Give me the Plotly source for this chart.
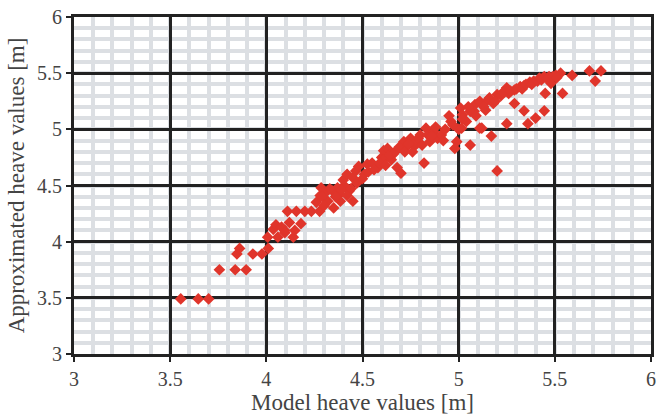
import plotly.graph_objects as go

# Model heave vs. approximated heave (metres)
model_heave = [
    3.555, 3.646, 3.70, 3.756, 3.838, 3.895, 3.847, 3.861, 3.93, 3.977,
    4.01, 4.007, 4.036, 4.05, 4.06, 4.096, 4.11, 4.156, 4.20, 4.234,
    4.277, 4.079, 4.12, 4.148, 4.18, 4.14, 4.096, 4.26, 4.28, 4.285,
    4.31, 4.32, 4.345, 4.37, 4.38, 4.385, 4.405, 4.43, 4.45, 4.40,
    4.42, 4.45, 4.465, 4.48, 4.51, 4.525, 4.55, 4.58, 4.60, 4.61,
    4.63, 4.61, 4.65, 4.66, 4.68, 4.70, 4.715, 4.73, 4.75, 4.77,
    4.78, 4.80, 4.82, 4.83, 4.84, 4.85, 4.87, 4.89, 4.91, 4.93,
    4.95, 4.96, 4.98, 4.99, 5.00, 5.01, 5.02, 5.04, 5.06, 5.08,
    5.02, 5.015, 5.06, 5.085, 5.09, 5.11, 5.12, 5.14, 5.15, 5.18,
    5.20, 5.22, 5.25, 5.26, 5.29, 5.32, 5.34, 5.37, 5.39, 5.42,
    5.445, 5.47, 5.29, 5.34, 5.25, 5.36, 5.40, 5.445, 5.45, 5.17,
    5.20, 5.11, 5.54, 5.505, 5.53, 5.59, 5.68, 5.74, 5.71, 5.48,
    4.47, 4.50, 4.53, 4.56, 4.59, 4.62, 4.64, 4.67, 4.69, 4.72,
    4.74, 4.76, 4.79, 4.81, 4.86, 4.88, 4.92, 4.97, 5.05, 5.13,
    5.16, 5.19, 5.23, 5.27, 5.30, 5.33, 5.35, 5.38, 5.41, 5.43,
    5.46, 5.49, 5.51, 4.29, 4.33, 4.36, 4.39, 4.42, 4.44, 4.35,
    4.30,
]
approx_heave = [
    3.49, 3.49, 3.49, 3.75, 3.75, 3.75, 3.89, 3.94, 3.89, 3.89,
    3.94, 4.04, 4.11, 4.15, 4.04, 4.10, 4.27, 4.27, 4.27, 4.27,
    4.27, 4.13, 4.17, 4.10, 4.16, 4.04, 4.08, 4.35, 4.41, 4.48,
    4.44, 4.36, 4.45, 4.48, 4.42, 4.36, 4.50, 4.45, 4.36, 4.55,
    4.60, 4.57, 4.63, 4.67, 4.60, 4.69, 4.70, 4.66, 4.75, 4.81,
    4.83, 4.73, 4.73, 4.78, 4.66, 4.61, 4.89, 4.85, 4.92, 4.85,
    4.89, 4.95, 4.70, 5.01, 4.95, 4.89, 4.98, 4.92, 4.95, 5.00,
    5.12, 5.07, 4.83, 4.89, 5.00, 5.19, 5.13, 5.07, 4.86, 5.16,
    5.09, 5.01, 5.16, 5.22, 5.12, 5.25, 5.01, 5.17, 5.26, 5.23,
    5.31, 5.30, 5.37, 5.32, 5.35, 5.38, 5.39, 5.42, 5.43, 5.455,
    5.47, 5.47, 5.23, 5.165, 5.05, 5.05, 5.10, 5.165, 5.32, 4.94,
    4.63, 5.01, 5.32, 5.48, 5.50, 5.48, 5.52, 5.52, 5.43, 5.41,
    4.52, 4.56, 4.62, 4.64, 4.70, 4.68, 4.77, 4.80, 4.84, 4.80,
    4.87, 4.80, 4.92, 4.86, 4.94, 5.02, 4.90, 5.04, 5.20, 5.20,
    5.28, 5.25, 5.33, 5.34, 5.36, 5.36, 5.40, 5.40, 5.43, 5.44,
    5.45, 5.47, 5.46, 4.40, 4.47, 4.40, 4.46, 4.41, 4.47, 4.30,
    4.32,
]

tick_vals = [3, 3.5, 4, 4.5, 5, 5.5, 6]
tick_text = ["3", "3.5", "4", "4.5", "5", "5.5", "6"]

DARK = "#222222"
MINOR = "#dcdfe3"
TEXT = "#444444"
FONT = "Liberation Serif"

fig = go.Figure(
    go.Scatter(
        x=model_heave,
        y=approx_heave,
        mode="markers",
        marker=dict(symbol="diamond", size=9, color="#e0352b", line=dict(width=0)),
        showlegend=False,
    )
)

axis_common = dict(
    range=[3, 6],
    tickmode="array",
    tickvals=tick_vals,
    ticktext=tick_text,
    showgrid=True,
    gridcolor=DARK,
    gridwidth=3,
    showline=True,
    mirror=True,
    linecolor=DARK,
    linewidth=3,
    ticks="outside",
    ticklen=5,
    tickwidth=2,
    tickcolor=DARK,
    zeroline=False,
    tickfont=dict(family=FONT, size=20, color=TEXT),
    minor=dict(dtick=0.1, tick0=3, showgrid=True, gridcolor=MINOR, gridwidth=3.5, ticklen=0),
)

fig.update_xaxes(
    **axis_common,
    title=dict(text="Model heave values [m]", font=dict(family=FONT, size=23, color=TEXT), standoff=4),
)
fig.update_yaxes(
    **axis_common,
    title=dict(text="Approximated heave values [m]", font=dict(family=FONT, size=23, color=TEXT), standoff=6),
)

fig.update_layout(
    width=662,
    height=419,
    margin=dict(l=74, r=6, t=15, b=65),
    plot_bgcolor="white",
    paper_bgcolor="white",
)

fig.write_html("out.html")
